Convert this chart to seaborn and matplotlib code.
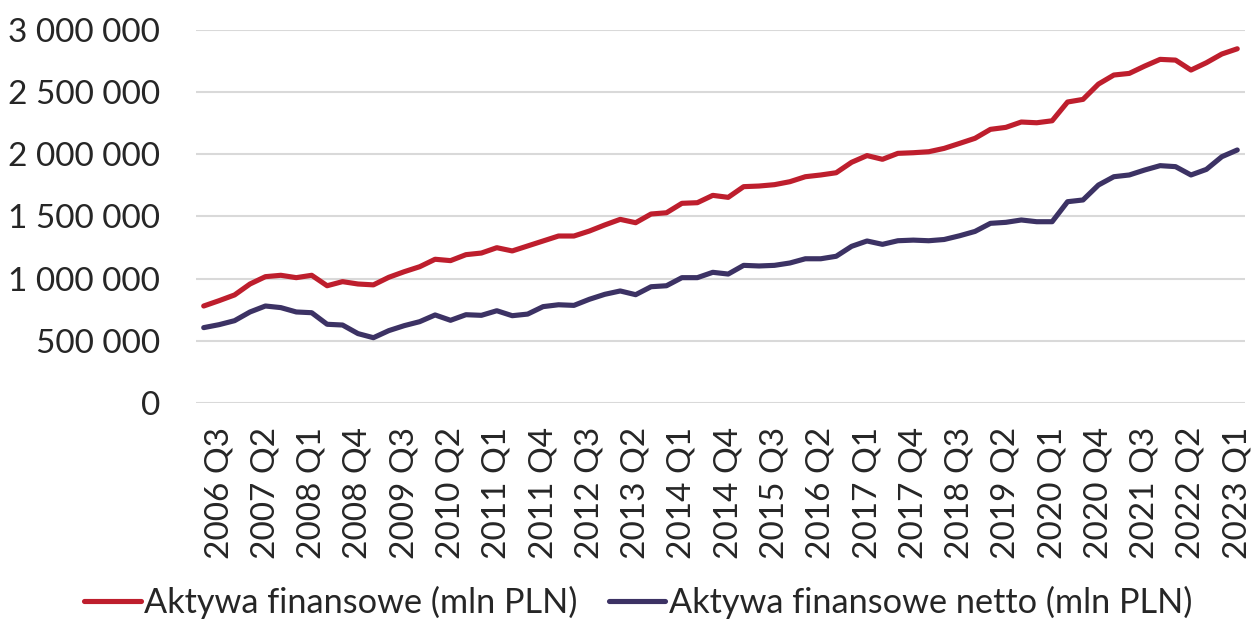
import pandas as pd
import matplotlib
matplotlib.use("Agg")
import matplotlib.pyplot as plt
import seaborn as sns

# quarterly categories 2006 Q2 .. 2023 Q1
quarters = [f"{2006 + (k + 1) // 4} Q{(k + 1) % 4 + 1}" for k in range(68)]

# values in mln PLN
aktywa = [780, 823, 869, 957, 1016, 1027, 1008, 1027, 943, 976, 957, 950, 1011, 1056,
          1096, 1156, 1145, 1193, 1206, 1249, 1223, 1263, 1303, 1343, 1343, 1383, 1432,
          1477, 1450, 1520, 1530, 1606, 1611, 1670, 1654, 1740, 1745, 1756, 1780, 1820,
          1834, 1852, 1936, 1990, 1960, 2008, 2013, 2021, 2048, 2088, 2129, 2201, 2217,
          2260, 2254, 2270, 2421, 2442, 2565, 2638, 2651, 2710, 2764, 2758, 2678, 2737,
          2807, 2849]
aktywa_netto = [606, 630, 662, 732, 780, 767, 732, 726, 633, 627, 558, 525, 582, 622,
                654, 708, 665, 710, 705, 742, 702, 715, 775, 790, 785, 834, 874, 901, 871,
                935, 943, 1008, 1008, 1051, 1037, 1107, 1102, 1107, 1126, 1160, 1160, 1180,
                1260, 1303, 1276, 1305, 1310, 1305, 1315, 1345, 1380, 1445, 1453, 1472, 1458,
                1458, 1619, 1633, 1753, 1820, 1834, 1874, 1909, 1901, 1834, 1879, 1981, 2035]

series_names = ["Aktywa finansowe (mln PLN)", "Aktywa finansowe netto (mln PLN)"]
colors = ["#BE1E2D", "#3C3264"]

y_ticks = [0, 500000, 1000000, 1500000, 2000000, 2500000, 3000000]
y_labels = ["0", "500 000", "1 000 000", "1 500 000", "2 000 000", "2 500 000", "3 000 000"]

df = pd.DataFrame({
    "pos": list(range(len(quarters))),
    series_names[0]: [v * 1000 for v in aktywa],
    series_names[1]: [v * 1000 for v in aktywa_netto],
})
long_df = df.melt(id_vars="pos", var_name="seria", value_name="wartosc")

sns.set_style("white")
plt.rcParams["font.family"] = ["Lato", "DejaVu Sans"]

fig, ax = plt.subplots(figsize=(12.54, 6.19), dpi=100)
fig.subplots_adjust(left=0.1563, right=0.9928, bottom=0.349, top=0.9515)

sns.lineplot(data=long_df, x="pos", y="wartosc", hue="seria", hue_order=series_names,
             palette=colors, linewidth=3.7, solid_capstyle="round",
             solid_joinstyle="round", ax=ax, zorder=3)

ax.set_xlim(-0.5, len(quarters) - 0.5)
ax.set_ylim(0, 3000000)
ax.set_yticks(y_ticks)
ax.set_yticklabels(y_labels, fontsize=24)
tick_pos = list(range(1, len(quarters), 3))
ax.set_xticks(tick_pos)
ax.set_xticklabels([quarters[p] for p in tick_pos], rotation=90, fontsize=24)
ax.tick_params(axis="y", length=0, pad=26)
ax.tick_params(axis="x", length=0, pad=17)
ax.set_xlabel("")
ax.set_ylabel("")

ax.yaxis.grid(True, color="#d9d9d9", linewidth=1.5, zorder=0)
ax.xaxis.grid(False)
for s in ax.spines.values():
    s.set_visible(False)

sns.move_legend(ax, "center", bbox_to_anchor=(0.509, 0.026),
                bbox_transform=fig.transFigure, ncol=2, frameon=False, title=None,
                fontsize=24.7, handlelength=1.65, handletextpad=0.1, columnspacing=0.9)

fig.savefig("out.png", dpi=100)
